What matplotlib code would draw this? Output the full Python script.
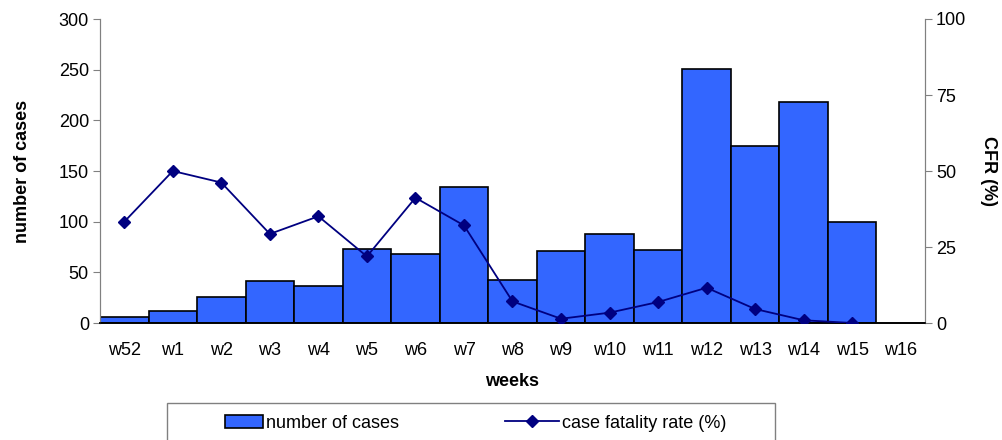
import numpy as np
import matplotlib.pyplot as plt
from matplotlib.patches import Patch, Rectangle
from matplotlib.lines import Line2D

plt.rcParams.update({
    "font.family": ["Liberation Sans", "DejaVu Sans"],
    "font.size": 13,
})

# dados
semanas = ["w52", "w1", "w2", "w3", "w4", "w5", "w6", "w7", "w8",
           "w9", "w10", "w11", "w12", "w13", "w14", "w15", "w16"]
casos = [6, 12, 26, 41, 37, 73, 68, 134, 42, 71, 88, 72, 251, 175, 218, 100]
cfr = [33.3, 50.0, 46.2, 29.3, 35.1, 21.9, 41.2, 32.1, 7.1,
       1.4, 3.4, 6.9, 11.6, 4.6, 0.9, 0.0]

fig = plt.figure(figsize=(10.02, 4.4), dpi=100)
ax = fig.add_axes([100 / 1002, 117 / 440, 825 / 1002, 304 / 440])
ax2 = ax.twinx()

x = np.arange(len(semanas))
ax.bar(x[:len(casos)], casos, width=1.0, color="#3366FF",
       edgecolor="black", linewidth=1.2, zorder=2)
ax2.plot(x[:len(cfr)], cfr, "-", color="#000080", linewidth=1.3,
         marker="D", markersize=6, zorder=3)

ax.set_xlim(-0.5, len(semanas) - 0.5)
ax.set_ylim(0, 300)
ax2.set_ylim(0, 100)
ax.set_yticks(range(0, 301, 50))
ax2.set_yticks(range(0, 101, 25))
ax.set_xticks(x)
ax.set_xticklabels(semanas)
ax.tick_params(axis="x", length=0, pad=14)
ax.tick_params(axis="y", length=5, color="#808080", pad=3)
ax2.tick_params(axis="y", length=5, color="#808080", pad=3)

for a in (ax, ax2):
    a.spines["top"].set_visible(False)
    a.spines["left"].set_color("#808080")
    a.spines["right"].set_color("#808080")
    a.spines["bottom"].set_color("black")
    a.spines["bottom"].set_linewidth(1.2)

# garante que a linha fique acima das barras
ax2.set_zorder(ax.get_zorder() + 1)
ax2.patch.set_visible(False)

ax.set_xlabel("weeks", fontweight="bold", labelpad=10)
ax.set_ylabel("number of cases", fontweight="bold", labelpad=20)
ax2.set_ylabel("CFR (%)", fontweight="bold", rotation=-90, labelpad=22)

# caixa da legenda (estilo Excel, cortada embaixo)
fig.patches.append(Rectangle((167 / 1002, -0.05), 608 / 1002, 37 / 440 + 0.05,
                             transform=fig.transFigure, facecolor="white",
                             edgecolor="#808080", linewidth=1.0))

h_bar = Patch(facecolor="#3366FF", edgecolor="black", linewidth=1.2)
h_line = Line2D([], [], color="#000080", marker="D", markersize=6, linewidth=1.3)
fig.legend([h_bar], ["number of cases"], loc="center left",
           bbox_to_anchor=(225 / 1002, 17 / 440), frameon=False,
           handlelength=2.1, handletextpad=0.15, borderpad=0, borderaxespad=0)
fig.legend([h_line], ["case fatality rate (%)"], loc="center left",
           bbox_to_anchor=(505 / 1002, 17 / 440), frameon=False,
           handlelength=3.0, handletextpad=0.15, borderpad=0, borderaxespad=0)

fig.savefig("out.png", dpi=100)
